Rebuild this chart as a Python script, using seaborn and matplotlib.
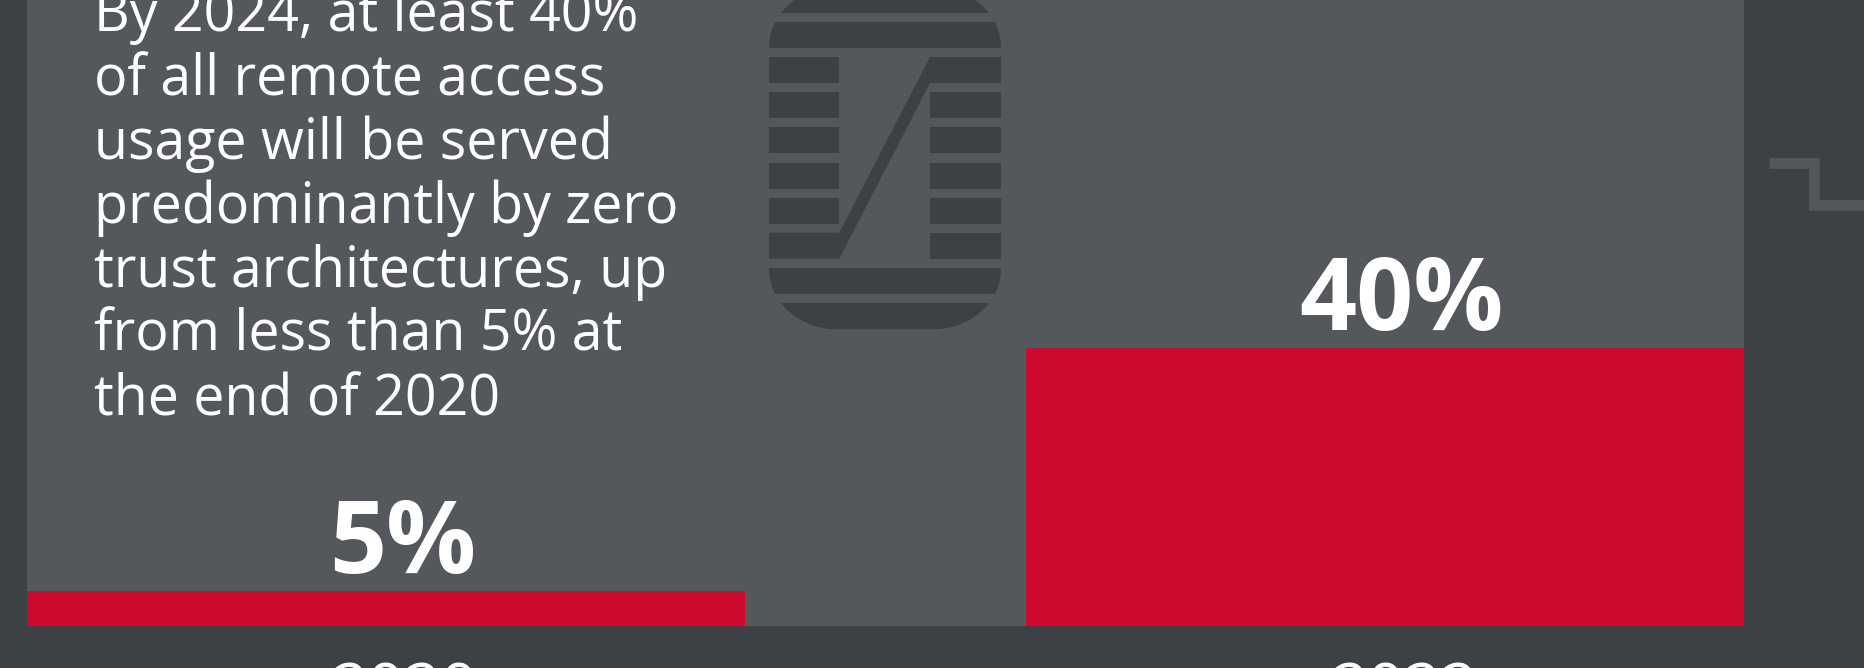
import matplotlib
matplotlib.use("Agg")
import numpy as np
import pandas as pd
import matplotlib.pyplot as plt
from matplotlib.patches import Rectangle, Polygon
from matplotlib.transforms import ScaledTranslation
import seaborn as sns

# dados do gráfico
anos = ["2020", "2022"]
valores = [5, 40]
rotulos = ["5%", "40%"]
texto = ["By 2024, at least 40%",
         "of all remote access",
         "usage will be served",
         "predominantly by zero",
         "trust architectures, up",
         "from less than 5% at",
         "the end of 2020"]

# cores
FUNDO = "#3d4045"
PAINEL = "#54575c"
VERMELHO = "#cc0a2f"

sns.set_theme(style="white")
plt.rcParams["font.family"] = ["Open Sans", "DejaVu Sans"]

W, H = 1865, 668
fig = plt.figure(figsize=(W / 100, H / 100), dpi=100, facecolor=FUNDO)

# painel principal (barras)
ax = fig.add_axes([27 / W, 42 / H, 1717 / W, 626 / H])
ax.set_facecolor(PAINEL)
df = pd.DataFrame({"ano": anos, "valor": valores})
sns.barplot(data=df, x="ano", y="valor", color=VERMELHO, saturation=1,
            width=0.718, linewidth=0, edgecolor="none", ax=ax)
ax.set_xlim(-0.359, 1.359)
ax.set_ylim(0, 90)
ax.set_xlabel("")
ax.set_ylabel("")
ax.set_yticks([])
ax.tick_params(axis="x", length=0, pad=25, labelsize=46, labelcolor="white")
for s in ax.spines.values():
    s.set_visible(False)
# rótulos dos anos levemente deslocados para a direita
desloc = ScaledTranslation(14 / 72, 0, fig.dpi_scale_trans)
for lab in ax.get_xticklabels():
    lab.set_transform(lab.get_transform() + desloc)

# rótulos das barras
for p, lab in zip(ax.patches, rotulos):
    ax.annotate(lab, (p.get_x() + p.get_width() / 2, p.get_height()),
                xytext=(12, 13), textcoords="offset points",
                ha="center", va="baseline", fontsize=72,
                fontweight="bold", color="white")

# texto descritivo
for i, linha in enumerate(texto):
    fig.text(94 / W, 1 - (31 + i * 64) / H, linha, fontsize=40,
             color="white", va="baseline", ha="left")

# camada decorativa em pixels
ov = fig.add_axes([0, 0, 1, 1], zorder=5)
ov.set_xlim(0, W)
ov.set_ylim(H, 0)
ov.axis("off")
ov.patch.set_alpha(0)

# contorno do logo: retângulo com cantos elípticos
x0, x1, y0, y1, rx, ry = 769, 1001, -13, 329.3, 68, 60
t = np.linspace(0, np.pi / 2, 20)
pts = []
for cx, cy, a in [(x1 - rx, y0 + ry, -np.pi / 2), (x1 - rx, y1 - ry, 0),
                  (x0 + rx, y1 - ry, np.pi / 2), (x0 + rx, y0 + ry, np.pi)]:
    pts += list(zip(cx + rx * np.cos(a + t), cy + ry * np.sin(a + t)))
clip = Polygon(pts, facecolor="none", edgecolor="none")
ov.add_patch(clip)

pecas = []
for a, b in [(-30, 13), (22, 48), (268, 294.3), (303.3, 335)]:
    pecas.append(Rectangle((760, a), 250, b - a))
for a in [92.3, 127.3, 162.7, 197.7]:
    pecas.append(Rectangle((760, a), 79.3, 26))
    pecas.append(Rectangle((930, a), 80, 26))
pecas.append(Rectangle((760, 57), 79.3, 26))
pecas.append(Rectangle((930, 232.7), 80, 26))
pecas.append(Polygon([(760, 232.7), (839.3, 232.7), (930, 57), (1010, 57),
                      (1010, 83), (930, 83), (839.3, 258.7), (760, 258.7)]))
for pc in pecas:
    pc.set_facecolor(FUNDO)
    pc.set_edgecolor("none")
    ov.add_patch(pc)
    pc.set_clip_path(clip)

# linha em degrau à direita
ov.plot([1769, 1813.5, 1813.5, 1870], [162.7, 162.7, 204.7, 204.7],
        color=PAINEL, lw=7.7, solid_joinstyle="miter", solid_capstyle="butt")

fig.savefig("out.png", dpi=100, facecolor=FUNDO)
